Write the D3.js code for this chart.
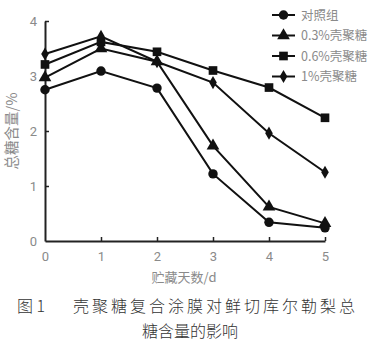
<!DOCTYPE html>
<html><head><meta charset="utf-8">
<script src="https://cdn.jsdelivr.net/npm/d3@7"></script>
<style>body{margin:0;background:#fff;}svg{display:block;}</style>
</head><body>
<svg id="c" width="372" height="349"></svg>
<script>
const days = [0,1,2,3,4,5];
const xTicks = [0,1,2,3,4,5];
const yTicks = [0,1,2,3,4];
const seriesNames = ["对照组","0.3%壳聚糖","0.6%壳聚糖","1%壳聚糖"];
const control = [2.75,3.09,2.78,1.22,0.34,0.24];
const cs03 = [2.97,3.50,3.26,1.73,0.62,0.32];
const cs06 = [3.21,3.62,3.44,3.10,2.79,2.24];
const cs1  = [3.40,3.72,3.26,2.88,1.96,1.25];
const symbols = [d3.symbolCircle, d3.symbolTriangle, d3.symbolSquare, d3.symbolDiamond];
const symSizes = [70, 70, 75, 50];

const svg = d3.select("#c");
const x = d3.scaleLinear().domain([0,5]).range([45,325]);
const y = d3.scaleLinear().domain([0,4]).range([241,21]);
const gray = "#8a8a8a";

// axes
const xa = svg.append("g").attr("transform","translate(0,241)")
  .call(d3.axisBottom(x).tickValues(xTicks).tickFormat(d3.format("d")).tickSizeInner(-4).tickSizeOuter(0).tickPadding(11));
const ya = svg.append("g").attr("transform","translate(45,0)")
  .call(d3.axisLeft(y).tickValues(yTicks).tickFormat(d3.format("d")).tickSizeInner(-4).tickSizeOuter(0).tickPadding(8));
[xa,ya].forEach(g=>{
  g.select(".domain").attr("stroke","#222").attr("stroke-width",2);
  g.selectAll(".tick line").attr("stroke","#222").attr("stroke-width",1.5);
  g.selectAll(".tick text").attr("fill",gray).style("font-family","Roboto, 'DejaVu Sans', sans-serif").style("font-size","13px");
});
ya.selectAll(".tick").filter(d=>d===0).select("line").remove();
xa.selectAll(".tick").filter(d=>d===0).select("line").remove();

const all = [control, cs03, cs06, cs1];
const line = d3.line().x((d,i)=>x(days[i])).y(d=>y(d));
all.forEach((s,k)=>{
  svg.append("path").datum(s).attr("d",line).attr("fill","none").attr("stroke","#111").attr("stroke-width",2);
});
all.forEach((s,k)=>{
  svg.append("g").selectAll("path").data(s).join("path")
    .attr("d", d3.symbol().type(symbols[k]).size(symSizes[k]))
    .attr("transform",(d,i)=>`translate(${x(days[i])},${y(d)})`)
    .attr("fill","#111");
});

// legend
const leg = svg.append("g");
seriesNames.forEach((n,k)=>{
  const ly = 15 + k*20.5;
  leg.append("line").attr("x1",272).attr("x2",295).attr("y1",ly).attr("y2",ly).attr("stroke","#111").attr("stroke-width",2);
  leg.append("path").attr("d", d3.symbol().type(symbols[k]).size(symSizes[k]))
    .attr("transform",`translate(283.5,${ly})`).attr("fill","#111");
  leg.append("text").attr("x",301).attr("y",ly).attr("dy","0.36em").text(n)
    .attr("fill",gray).style("font-family","'Noto Sans CJK SC', Roboto, sans-serif").style("font-size","12.5px");
});

// axis titles
svg.append("text").attr("x",184).attr("y",282).attr("text-anchor","middle").text("贮藏天数/d")
  .attr("fill",gray).style("font-family","'Noto Sans CJK SC', sans-serif").style("font-size","13px");
svg.append("text").attr("transform","translate(17,131) rotate(-90)").attr("text-anchor","middle").text("总糖含量/%")
  .attr("fill",gray).style("font-family","'Noto Sans CJK SC', sans-serif").style("font-size","14.5px");

// caption
svg.append("text").attr("x",17).attr("y",312).text("图 1")
  .attr("fill","#333").style("font-family","'Noto Sans CJK SC', sans-serif").style("font-size","16px").style("font-weight","300");
svg.append("text").attr("x",73).attr("y",312).text("壳聚糖复合涂膜对鲜切库尔勒梨总")
  .attr("fill","#333").style("font-family","'Noto Sans CJK SC', sans-serif").style("font-size","16px").style("font-weight","300").attr("textLength",282);
svg.append("text").attr("x",190).attr("y",337).attr("text-anchor","middle").text("糖含量的影响")
  .attr("fill","#333").style("font-family","'Noto Sans CJK SC', sans-serif").style("font-size","16px").style("font-weight","300");
</script>
</body></html>
